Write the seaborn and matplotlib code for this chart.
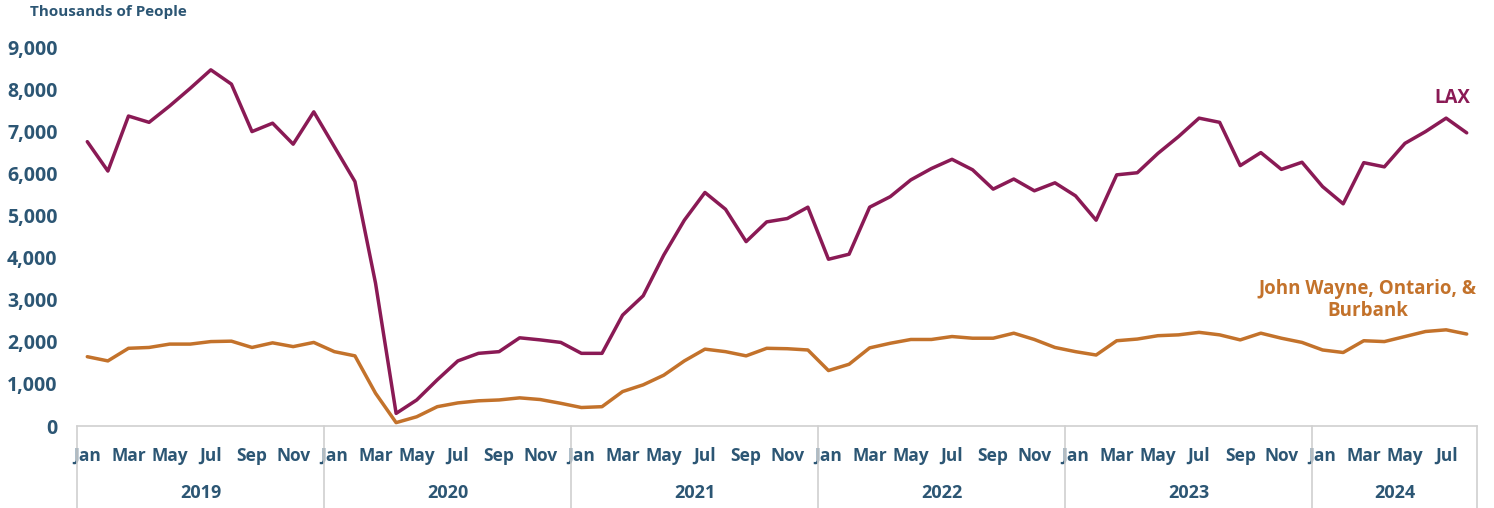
import numpy as np
import pandas as pd
import matplotlib
matplotlib.use('Agg')
import matplotlib.pyplot as plt
import matplotlib.transforms as mtransforms
import seaborn as sns

# monthly passengers, thousands (Jan 2019 - Aug 2024)
years = ['2019', '2020', '2021', '2022', '2023', '2024']
months_per_year = [12, 12, 12, 12, 12, 8]
month_names = ['Jan', 'Feb', 'Mar', 'Apr', 'May', 'Jun',
               'Jul', 'Aug', 'Sep', 'Oct', 'Nov', 'Dec']

lax = [6770, 6070, 7380, 7230, 7620, 8040, 8480, 8140, 7010, 7210, 6710, 7480,
       6650, 5820, 3400, 300, 620, 1100, 1550, 1730, 1770, 2100, 2050, 1990,
       1730, 1730, 2640, 3100, 4070, 4900, 5560, 5160, 4390, 4860, 4940, 5210,
       3970, 4090, 5210, 5460, 5860, 6130, 6350, 6100, 5640, 5880, 5600, 5790,
       5480, 4900, 5980, 6030, 6490, 6890, 7330, 7230, 6200, 6510, 6110, 6280,
       5700, 5290, 6270, 6170, 6730, 7010, 7330, 6980]

regional = [1650, 1550, 1850, 1870, 1950, 1950, 2010, 2020, 1870, 1980, 1890, 1990,
            1770, 1670, 780, 80, 220, 460, 550, 600, 620, 670, 630, 540,
            440, 460, 820, 980, 1210, 1550, 1830, 1770, 1670, 1850, 1840, 1810,
            1320, 1470, 1860, 1970, 2060, 2060, 2130, 2090, 2090, 2210, 2060, 1870,
            1770, 1690, 2030, 2070, 2150, 2170, 2230, 2170, 2050, 2210, 2090, 1990,
            1810, 1750, 2030, 2010, 2130, 2250, 2290, 2190]

lax_color = '#8A1A55'
reg_color = '#C3722B'
text_color = '#2C5674'

n = len(lax)
df = pd.DataFrame({'idx': np.arange(n), 'LAX': lax, 'Regional': regional})

sns.set_style('white')
plt.rcParams['font.family'] = ['Open Sans', 'DejaVu Sans']
plt.rcParams['font.weight'] = 'bold'

fig = plt.figure(figsize=(14.94, 5.08), dpi=100)
ax = fig.add_axes([77 / 1494, 82 / 508, 1400 / 1494, 378 / 508])

sns.lineplot(data=df, x='idx', y='LAX', color=lax_color, linewidth=2.5, ax=ax)
sns.lineplot(data=df, x='idx', y='Regional', color=reg_color, linewidth=2.5, ax=ax)

ax.set_xlim(-0.5, n - 0.5)
ax.set_ylim(0, 9000)
ax.set_yticks(np.arange(0, 9001, 1000))
ax.set_yticklabels([f'{v:,}' for v in range(0, 9001, 1000)],
                   fontsize=14, fontweight='bold', color=text_color)
ax.tick_params(axis='y', length=0, pad=14)
ax.set_xlabel('')
ax.set_ylabel('')

for side in ['top', 'right', 'left']:
    ax.spines[side].set_visible(False)
ax.spines['bottom'].set_color('#D0D0D0')
ax.spines['bottom'].set_linewidth(1.2)

# month tick labels (every other month)
month_idx = []
month_lab = []
pos = 0
for y, cnt in zip(years, months_per_year):
    for m in range(0, cnt, 2):
        month_idx.append(pos + m)
        month_lab.append(month_names[m])
    pos += cnt
ax.set_xticks(month_idx)
ax.set_xticklabels(month_lab, fontsize=12.5, fontweight='bold', color=text_color)
ax.tick_params(axis='x', length=0, pad=15)

# year labels and separators
trans = mtransforms.blended_transform_factory(ax.transData, ax.transAxes)
bottom = -82 / 378
start = 0
bounds = [-0.5]
for y, cnt in zip(years, months_per_year):
    mid = start + (cnt - 1) / 2
    ax.text(mid, -67 / 378, y, transform=trans, ha='center', va='center',
            fontsize=13, fontweight='bold', color=text_color)
    start += cnt
    bounds.append(start - 0.5)
for b in bounds:
    ax.plot([b, b], [0, bottom], transform=trans, color='#D0D0D0',
            linewidth=1.2, clip_on=False)

# series labels
ax.text(66.3, 7820, 'LAX', ha='center', va='center', fontsize=13.5,
        fontweight='bold', color=lax_color)
ax.text(62.2, 3000, 'John Wayne, Ontario, &\nBurbank', ha='center',
        va='center', fontsize=13.5, fontweight='bold', color=reg_color,
        linespacing=1.15)

fig.text(30 / 1494, 1 - 12 / 508, 'Thousands of People', ha='left', va='center',
         fontsize=11, fontweight='bold', color=text_color)

fig.savefig('out.png', dpi=100)
